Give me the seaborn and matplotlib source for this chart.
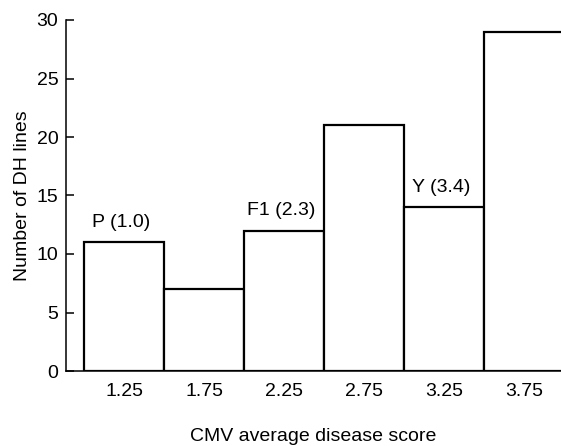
import numpy as np
import pandas as pd
import matplotlib
matplotlib.use("Agg")
import matplotlib.pyplot as plt
import seaborn as sns

# CMV average disease score classes and DH line counts
score_classes = ["1.25", "1.75", "2.25", "2.75", "3.25", "3.75"]
dh_lines = [11, 7, 12, 21, 14, 29]

# parent / F1 marks placed over their score class
mark_texts = ["P (1.0)", "F1 (2.3)", "Y (3.4)"]
mark_classes = ["1.25", "2.25", "3.25"]

sns.set_style("ticks")
plt.rcParams["font.family"] = ["Liberation Sans", "DejaVu Sans"]
plt.rcParams["font.size"] = 14
plt.rcParams["text.color"] = "black"
plt.rcParams["axes.labelcolor"] = "black"

df = pd.DataFrame({"score": score_classes, "count": dh_lines})

fig = plt.figure(figsize=(5.61, 4.46), dpi=100)
ax = fig.add_axes([66 / 561, 75 / 446, 1 - 66 / 561, (371 - 20) / 446])

sns.barplot(data=df, x="score", y="count", order=score_classes,
            color="white", edgecolor="black", linewidth=1.6,
            width=1.0, saturation=1, ax=ax)

for txt, cls in zip(mark_texts, mark_classes):
    i = score_classes.index(cls)
    ax.annotate(txt, xy=(i, dh_lines[i]), xytext=(-2, 11),
                textcoords="offset points", ha="center", va="baseline",
                fontsize=14, color="black")

ax.set_xlim(-0.725, 5.46)
ax.set_ylim(0, 30)
ax.set_yticks([0, 5, 10, 15, 20, 25, 30])

sns.despine(ax=ax, top=True, right=True)
for s in ["left", "bottom"]:
    ax.spines[s].set_linewidth(1.1)
    ax.spines[s].set_color("black")

ax.tick_params(axis="x", length=0, pad=9, labelsize=14, colors="black")
ax.tick_params(axis="y", direction="in", length=6, width=1.1, pad=5.5,
               labelsize=14, colors="black")

ax.set_xlabel("CMV average disease score", fontsize=14, labelpad=20)
ax.set_ylabel("Number of DH lines", fontsize=14, labelpad=4)

fig.savefig("out.png", dpi=100)
